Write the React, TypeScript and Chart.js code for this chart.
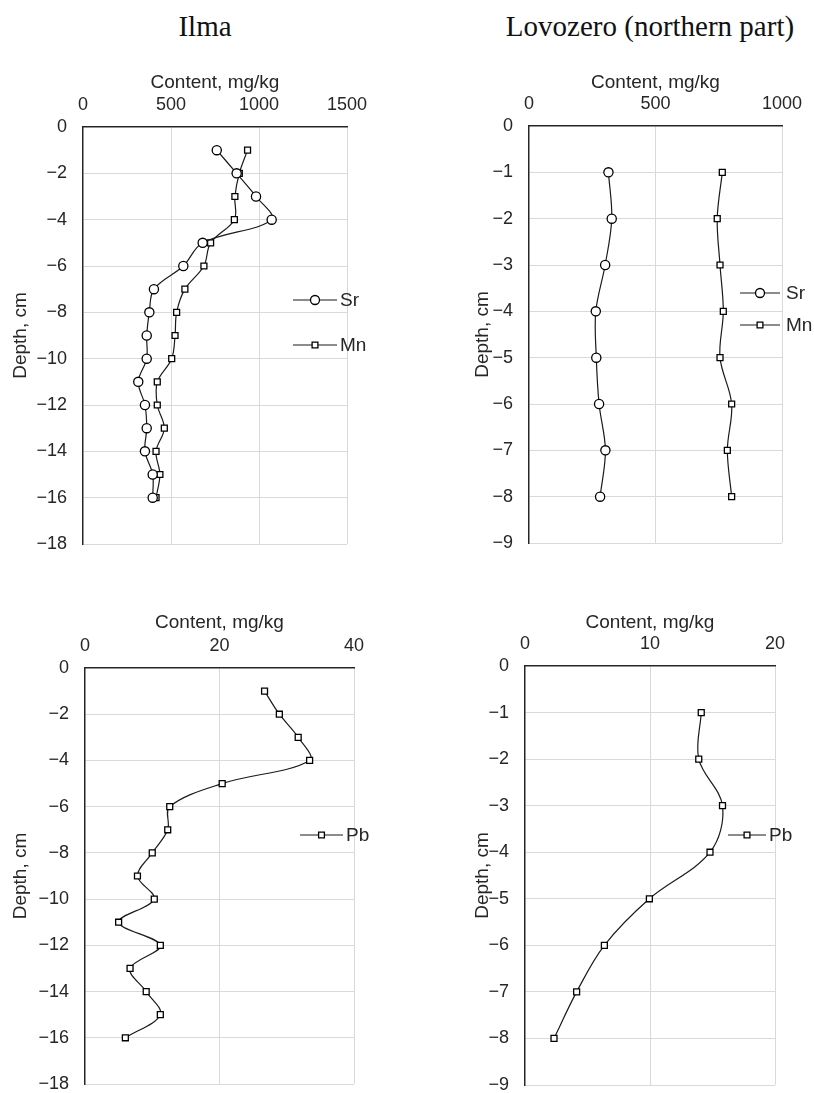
import React, { useEffect, useRef } from "react";
import { Chart, registerables } from "chart.js";

Chart.register(...registerables);

// ---------- Data ----------
const ilmaDepths = [-1, -2, -3, -4, -5, -6, -7, -8, -9, -10, -11, -12, -13, -14, -15, -16];
const ilmaSr = [760, 873, 983, 1072, 680, 570, 403, 377, 362, 362, 314, 352, 362, 352, 396, 396];
const ilmaMn = [935, 888, 863, 860, 725, 687, 579, 532, 523, 504, 422, 422, 462, 415, 437, 415];
const ilmaPb = [26.7, 28.9, 31.7, 33.4, 20.4, 12.6, 12.3, 10.0, 7.8, 10.3, 5.0, 11.2, 6.7, 9.1, 11.2, 6.0];

const lovozeroDepths = [-1, -2, -3, -4, -5, -6, -7, -8];
const lovozeroSr = [314, 327, 301, 264, 266, 277, 302, 281];
const lovozeroMn = [764, 744, 755, 768, 755, 801, 784, 801];
const lovozeroPb = [14.1, 13.9, 15.8, 14.8, 9.95, 6.35, 4.13, 2.32];

const siteTitles = ["Ilma", "Lovozero (northern part)"];
const xAxisTitle = "Content, mg/kg";
const yAxisTitle = "Depth, cm";

// ---------- Styles ----------
const SANS = '"Liberation Sans", Arial, sans-serif';
const TEXT = "#262626";
const LINE = "#1a1a1a";
const GRID = "#d9d9d9";
const AXIS = "#262626";
const NONE = "rgba(0,0,0,0)";

type Series = { label: string; depths: number[]; values: number[]; marker: "circle" | "rect" };

type PanelProps = {
  left: number;
  top: number;
  width: number;
  height: number;
  yWidth: number;
  xHeight: number;
  padRight: number;
  padBottom: number;
  xMax: number;
  xStep: number;
  yMin: number;
  yStep: number;
  series: Series[];
  legend: { x0: number; x1: number; textX: number; ys: number[] };
};

function drawMarker(ctx: CanvasRenderingContext2D, marker: string, x: number, y: number) {
  ctx.beginPath();
  if (marker === "circle") {
    ctx.arc(x, y, 4.5, 0, Math.PI * 2);
  } else {
    ctx.rect(x - 2.9, y - 2.9, 5.8, 5.8);
  }
  ctx.fillStyle = "#fff";
  ctx.fill();
  ctx.lineWidth = 1.3;
  ctx.strokeStyle = "#000";
  ctx.stroke();
}

const sideLegend = {
  id: "sideLegend",
  afterDatasetsDraw(chart: any, _args: any, opts: any) {
    const { ctx, chartArea } = chart;
    ctx.save();
    (opts.items || []).forEach((it: any, i: number) => {
      const y = chartArea.top + opts.ys[i];
      const x0 = chartArea.right + opts.x0;
      const x1 = chartArea.right + opts.x1;
      ctx.beginPath();
      ctx.moveTo(x0, y);
      ctx.lineTo(x1, y);
      ctx.strokeStyle = LINE;
      ctx.lineWidth = 1.2;
      ctx.stroke();
      drawMarker(ctx, it.marker, (x0 + x1) / 2, y);
      ctx.fillStyle = TEXT;
      ctx.font = `19px ${SANS}`;
      ctx.textBaseline = "middle";
      ctx.textAlign = "left";
      ctx.fillText(it.label, chartArea.right + opts.textX, y + 1);
    });
    ctx.restore();
  },
};

function fmtDepth(v: number) {
  if (v < 0) return "\u2212" + Math.abs(v);
  return String(v);
}

function Panel(p: PanelProps) {
  const ref = useRef<HTMLCanvasElement | null>(null);
  useEffect(() => {
    if (!ref.current) return;
    const chart = new Chart(ref.current, {
      type: "line",
      data: {
        datasets: p.series.map((s) => ({
          label: s.label,
          data: s.depths.map((d, i) => ({ x: s.values[i], y: d })),
          borderColor: LINE,
          borderWidth: 1.2,
          tension: 0.35,
          fill: false,
          pointStyle: s.marker,
          pointRadius: s.marker === "circle" ? 4.6 : 4.2,
          pointBorderColor: "#000",
          pointBackgroundColor: "#fff",
          pointBorderWidth: 1.3,
        })),
      },
      options: {
        responsive: false,
        animation: false,
        layout: { padding: { left: 0, top: 0, right: p.padRight, bottom: p.padBottom } },
        plugins: {
          legend: { display: false },
          tooltip: { enabled: false },
          sideLegend: {
            items: p.series.map((s) => ({ label: s.label, marker: s.marker })),
            x0: p.legend.x0,
            x1: p.legend.x1,
            textX: p.legend.textX,
            ys: p.legend.ys,
          },
        } as any,
        scales: {
          x: {
            type: "linear",
            position: "top",
            min: 0,
            max: p.xMax,
            ticks: {
              stepSize: p.xStep,
              padding: 0,
              color: TEXT,
              font: { size: 18, family: SANS },
              callback: (v: any) => String(v),
            },
            grid: {
              color: (c: any) => (c.tick && c.tick.value === 0 ? NONE : GRID),
              drawTicks: true,
              tickLength: 11,
              tickColor: NONE,
              lineWidth: 1,
            },
            border: { display: true, color: AXIS, width: 1.5 },
            title: {
              display: true,
              text: xAxisTitle,
              color: TEXT,
              font: { size: 19, family: SANS },
              padding: { top: 11, bottom: 0 },
            },
            afterFit: (s: any) => {
              s.height = p.xHeight;
            },
          },
          y: {
            type: "linear",
            position: "left",
            min: p.yMin,
            max: 0,
            ticks: {
              stepSize: p.yStep,
              padding: 0,
              color: TEXT,
              font: { size: 18, family: SANS },
              callback: (v: any) => fmtDepth(Number(v)),
            },
            grid: {
              color: (c: any) => (c.tick && c.tick.value === 0 ? NONE : GRID),
              drawTicks: true,
              tickLength: 16,
              tickColor: NONE,
              lineWidth: 1,
            },
            border: { display: true, color: AXIS, width: 1.5 },
            title: {
              display: true,
              text: yAxisTitle,
              color: TEXT,
              font: { size: 19, family: SANS },
              padding: { top: 9, bottom: 0 },
            },
            afterFit: (s: any) => {
              s.width = p.yWidth;
            },
          },
        },
      } as any,
      plugins: [sideLegend as any],
    });
    return () => chart.destroy();
  }, []);
  return (
    <div style={{ position: "absolute", left: p.left, top: p.top, width: p.width, height: p.height }}>
      <canvas ref={ref} width={p.width} height={p.height} style={{ width: p.width, height: p.height, display: "block" }} />
    </div>
  );
}

export default function App() {
  const titleStyle: React.CSSProperties = {
    position: "absolute",
    top: 9,
    height: 34,
    lineHeight: "34px",
    fontFamily: '"Liberation Serif", "Times New Roman", serif',
    fontSize: 29,
    color: "#111",
    textAlign: "center",
    whiteSpace: "nowrap",
  };
  return (
    <div
      style={{
        position: "absolute",
        left: 0,
        top: 0,
        width: 814,
        height: 1093,
        overflow: "hidden",
        background: "#fff",
      }}
    >
      <div style={{ ...titleStyle, left: 0, width: 410 }}>{siteTitles[0]}</div>
      <div style={{ ...titleStyle, left: 450, width: 400 }}>{siteTitles[1]}</div>

      <Panel
        left={0}
        top={60}
        width={407}
        height={510}
        yWidth={83}
        xHeight={67}
        padRight={60}
        padBottom={26}
        xMax={1500}
        xStep={500}
        yMin={-18}
        yStep={2}
        series={[
          { label: "Sr", depths: ilmaDepths, values: ilmaSr, marker: "circle" },
          { label: "Mn", depths: ilmaDepths, values: ilmaMn, marker: "rect" },
        ]}
        legend={{ x0: -54, x1: -10, textX: -7, ys: [173, 218] }}
      />
      <Panel
        left={462}
        top={60}
        width={352}
        height={510}
        yWidth={67}
        xHeight={66}
        padRight={32}
        padBottom={27}
        xMax={1000}
        xStep={500}
        yMin={-9}
        yStep={1}
        series={[
          { label: "Sr", depths: lovozeroDepths, values: lovozeroSr, marker: "circle" },
          { label: "Mn", depths: lovozeroDepths, values: lovozeroMn, marker: "rect" },
        ]}
        legend={{ x0: -42, x1: -2, textX: 4, ys: [167, 199] }}
      />
      <Panel
        left={0}
        top={600}
        width={407}
        height={510}
        yWidth={85}
        xHeight={68}
        padRight={53}
        padBottom={26}
        xMax={40}
        xStep={20}
        yMin={-18}
        yStep={2}
        series={[{ label: "Pb", depths: ilmaDepths, values: ilmaPb, marker: "rect" }]}
        legend={{ x0: -54, x1: -11, textX: -8, ys: [167] }}
      />
      <Panel
        left={462}
        top={600}
        width={352}
        height={510}
        yWidth={63}
        xHeight={66}
        padRight={39}
        padBottom={25}
        xMax={20}
        xStep={10}
        yMin={-9}
        yStep={1}
        series={[{ label: "Pb", depths: lovozeroDepths, values: lovozeroPb, marker: "rect" }]}
        legend={{ x0: -47, x1: -9, textX: -6, ys: [169] }}
      />
    </div>
  );
}
